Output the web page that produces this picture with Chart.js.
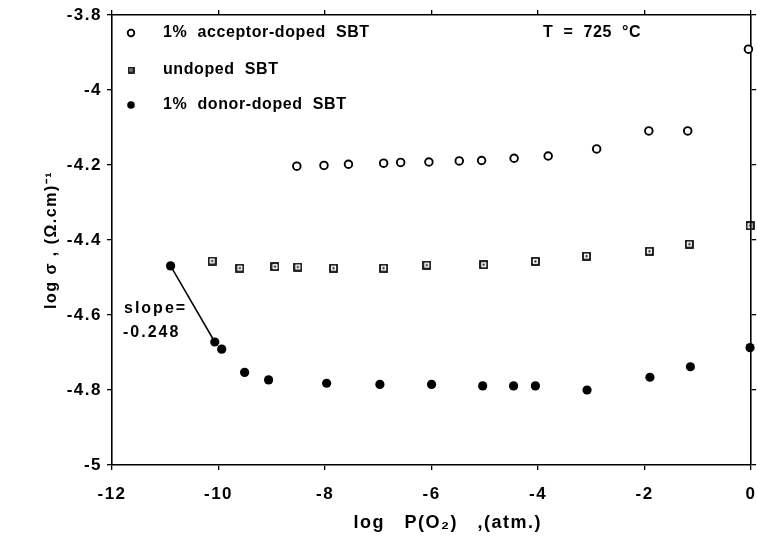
<!DOCTYPE html>
<html>
<head>
<meta charset="utf-8">
<script src="https://cdn.jsdelivr.net/npm/chart.js@4/dist/chart.umd.min.js"></script>
<style>
  body { margin: 0; background: #fff; }
  #wrap { width: 757px; height: 542px; }
</style>
</head>
<body>
<div id="wrap"><canvas id="myChart" width="757" height="542"></canvas></div>
<script>
// log P(O2) values and log sigma values
const acceptorX = [-8.53, -8.02, -7.56, -6.90, -6.58, -6.05, -5.48, -5.06, -4.45, -3.81, -2.90, -1.92, -1.19, -0.05];
const acceptorY = [-4.203, -4.201, -4.198, -4.195, -4.193, -4.192, -4.189, -4.188, -4.182, -4.176, -4.157, -4.109, -4.109, -3.891];

const undopedX = [-10.12, -9.60, -8.94, -8.51, -7.84, -6.90, -6.09, -5.02, -4.05, -3.09, -1.91, -1.16, -0.02];
const undopedY = [-4.456, -4.475, -4.471, -4.472, -4.475, -4.475, -4.467, -4.466, -4.457, -4.443, -4.430, -4.411, -4.362];

const donorX = [-10.90, -10.07, -9.94, -9.51, -9.06, -7.97, -6.97, -6.00, -5.04, -4.46, -4.05, -3.08, -1.90, -1.14, -0.02];
const donorY = [-4.469, -4.672, -4.691, -4.753, -4.773, -4.782, -4.785, -4.785, -4.789, -4.789, -4.789, -4.800, -4.766, -4.738, -4.687];

const seriesNames = ['1%  acceptor-doped  SBT', 'undoped  SBT', '1%  donor-doped  SBT'];
const tempLabel = 'T  =  725  °C';
const slopeLabel = ['slope=', '-0.248'];

const xTicks = [-12, -10, -8, -6, -4, -2, 0];
const yTicks = [-5, -4.8, -4.6, -4.4, -4.2, -4, -3.8];

function toPoints(xs, ys) {
    return xs.map((x, i) => ({ x: x, y: ys[i] }));
}

// 四角に中心の点がついたマーカー
function makeSquare(size) {
    const c = document.createElement('canvas');
    c.width = size; c.height = size;
    const g = c.getContext('2d');
    g.strokeStyle = '#000';
    g.lineWidth = 1.7;
    g.strokeRect(1, 1, size - 2, size - 2);
    g.fillStyle = '#000';
    g.fillRect(size / 2 - 1, size / 2 - 1, 2, 2);
    return c;
}
const squareMark = makeSquare(9);
const squareSmall = makeSquare(7);

const FONT = '"Liberation Sans", Arial, Helvetica, sans-serif';

// wider letter spacing like the scanned figure
const spacing = {
    id: 'spacing',
    beforeUpdate(chart) { chart.ctx.letterSpacing = '1.5px'; },
    beforeDraw(chart) { chart.ctx.letterSpacing = '1.5px'; }
};

// legend, temperature and slope note drawn inside the plot
const notes = {
    id: 'notes',
    afterDatasetsDraw(chart) {
        const ctx = chart.ctx;
        ctx.save();
        ctx.fillStyle = '#000';
        ctx.strokeStyle = '#000';
        ctx.font = 'bold 16px ' + FONT;
        ctx.letterSpacing = '0.6px';
        ctx.textBaseline = 'middle';
        ctx.textAlign = 'left';
        const rows = [33, 70, 105];
        // marker 1: open circle
        ctx.lineWidth = 1.8;
        ctx.beginPath(); ctx.arc(131, rows[0], 3.3, 0, Math.PI * 2); ctx.stroke();
        // marker 2: square
        ctx.drawImage(squareSmall, 131 - 3.5, rows[1] - 3.5);
        // marker 3: filled circle
        ctx.beginPath(); ctx.arc(131, rows[2], 3.8, 0, Math.PI * 2); ctx.fill();
        seriesNames.forEach((t, i) => ctx.fillText(t, 163, rows[i]));
        ctx.fillText(tempLabel, 543, 33);

        ctx.letterSpacing = '2px';
        ctx.fillText(slopeLabel[0], 124, 309);
        ctx.fillText(slopeLabel[1], 123, 333);
        ctx.restore();
    }
};

const axisGrid = {
    display: true,
    drawOnChartArea: false,
    drawTicks: true,
    tickLength: 5,
    color: '#000',
    lineWidth: 1.3
};
const axisBorder = { display: true, color: '#000', width: 1.6 };

const ctx = document.getElementById('myChart').getContext('2d');
new Chart(ctx, {
    type: 'scatter',
    data: {
        datasets: [
            {
                label: seriesNames[0],
                data: toPoints(acceptorX, acceptorY),
                pointStyle: 'circle',
                pointRadius: 3.8,
                pointBorderWidth: 1.9,
                pointBackgroundColor: '#fff',
                pointBorderColor: '#000',
                clip: false
            },
            {
                label: seriesNames[1],
                data: toPoints(undopedX, undopedY),
                pointStyle: squareMark,
                pointRadius: 4.5,
                clip: false
            },
            {
                label: seriesNames[2],
                data: toPoints(donorX, donorY),
                pointStyle: 'circle',
                pointRadius: 4.6,
                pointBorderWidth: 0,
                pointBackgroundColor: '#000',
                pointBorderColor: '#000',
                clip: false
            },
            {
                // slope line through the first two donor points
                label: 'slope',
                data: toPoints(donorX.slice(0, 2), donorY.slice(0, 2)),
                showLine: true,
                pointRadius: 0,
                borderColor: '#000',
                borderWidth: 1.5
            }
        ]
    },
    options: {
        responsive: false,
        animation: false,
        layout: { padding: 0 },
        plugins: {
            legend: { display: false },
            tooltip: { enabled: false }
        },
        scales: {
            x: {
                type: 'linear',
                position: 'bottom',
                min: -12, max: 0,
                afterBuildTicks: s => { s.ticks = xTicks.map(v => ({ value: v })); },
                afterFit: s => { s.height = 77; s.paddingLeft = 0; s.paddingRight = 0; },
                grid: axisGrid,
                border: axisBorder,
                ticks: {
                    color: '#000',
                    padding: 14,
                    maxRotation: 0,
                    font: { family: FONT, size: 17, weight: 'bold' },
                    callback: v => String(v)
                },
                title: {
                    display: true,
                    text: '     log   P(O₂)   ,(atm.)',
                    color: '#000',
                    padding: { top: 0, bottom: 8 },
                    font: { family: FONT, size: 18, weight: 'bold' }
                }
            },
            x2: {
                type: 'linear',
                position: 'top',
                min: -12, max: 0,
                afterBuildTicks: s => { s.ticks = xTicks.map(v => ({ value: v })); },
                afterFit: s => { s.height = 15; s.paddingLeft = 0; s.paddingRight = 0; },
                grid: axisGrid,
                border: axisBorder,
                ticks: { display: false }
            },
            y: {
                type: 'linear',
                position: 'left',
                min: -5, max: -3.8,
                afterBuildTicks: s => { s.ticks = yTicks.map(v => ({ value: v })); },
                afterFit: s => { s.width = 112; s.paddingTop = 0; s.paddingBottom = 0; },
                grid: axisGrid,
                border: axisBorder,
                ticks: {
                    color: '#000',
                    padding: 5,
                    font: { family: FONT, size: 17, weight: 'bold' },
                    callback: v => String(Math.round(v * 10) / 10)
                },
                title: {
                    display: true,
                    text: 'log σ , (Ω.cm)⁻¹',
                    color: '#000',
                    padding: { top: 42, bottom: 0 },
                    font: { family: FONT, size: 16, weight: 'bold' }
                }
            },
            y2: {
                type: 'linear',
                position: 'right',
                min: -5, max: -3.8,
                afterBuildTicks: s => { s.ticks = yTicks.map(v => ({ value: v })); },
                afterFit: s => { s.width = 5; s.paddingTop = 0; s.paddingBottom = 0; },
                grid: axisGrid,
                border: axisBorder,
                ticks: { display: false }
            }
        }
    },
    plugins: [spacing, notes]
});
</script>
</body>
</html>
